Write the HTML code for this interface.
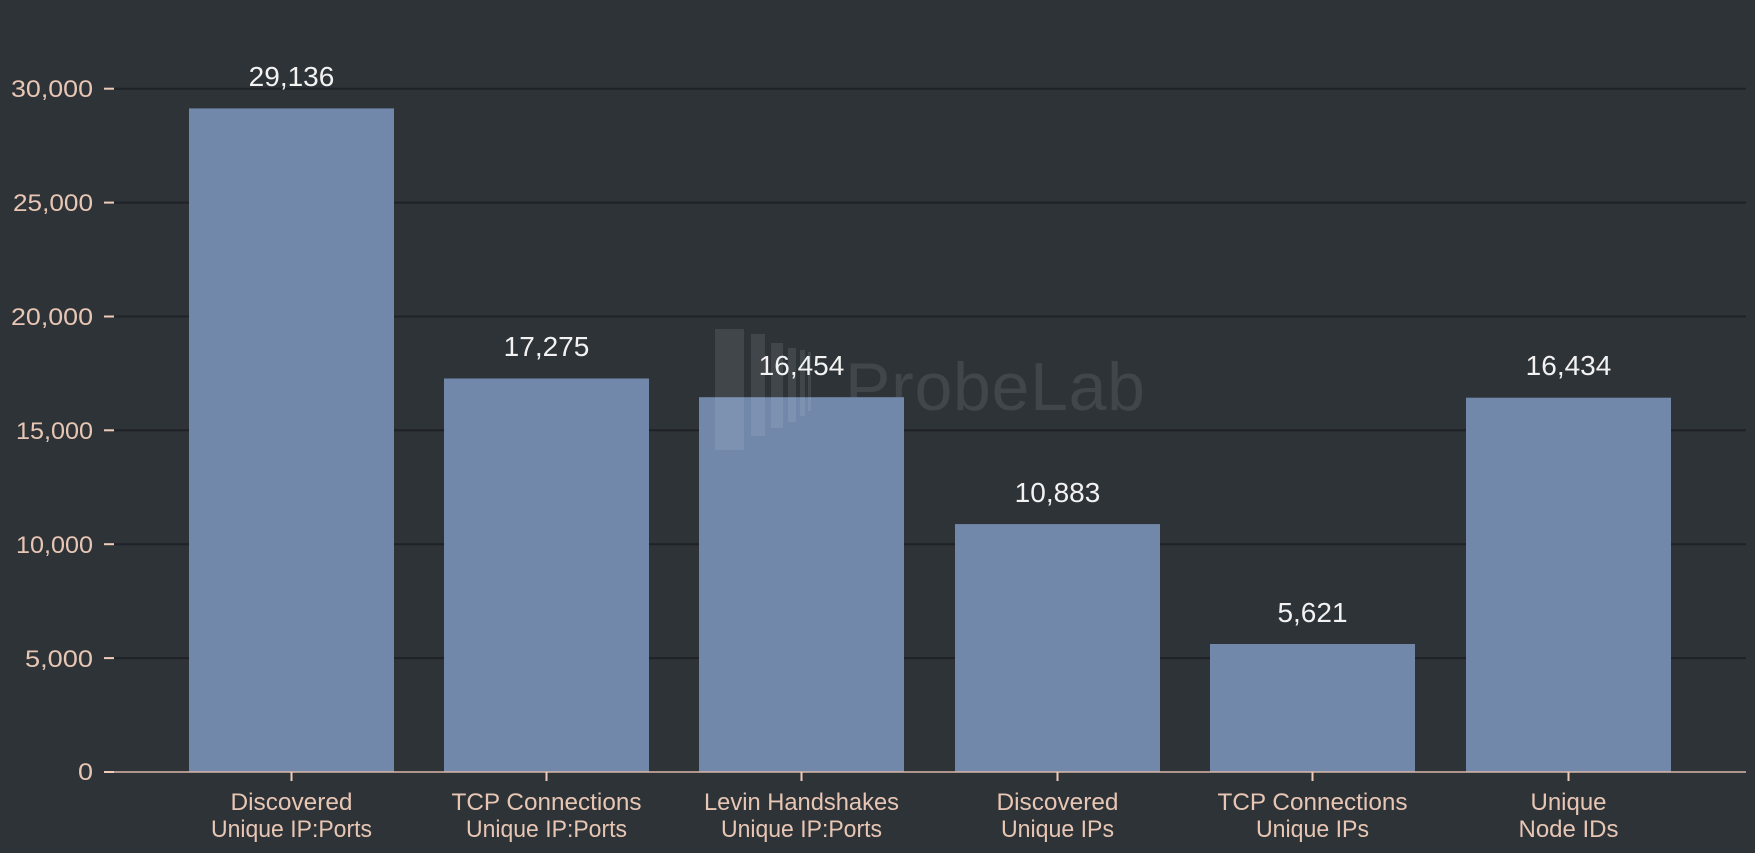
<!DOCTYPE html>
<html><head><meta charset="utf-8"><style>
html,body{margin:0;padding:0;background:#2e3338;}
svg{display:block;}
text{font-family:"Liberation Sans","DejaVu Sans",sans-serif;}
</style></head><body>
<svg width="1755" height="853" viewBox="0 0 1755 853" xmlns="http://www.w3.org/2000/svg">
<rect width="1755" height="853" fill="#2e3338"/>
<g stroke="#1f2327" stroke-width="2">
<line x1="114" x2="1746" y1="88.7" y2="88.7"/>
<line x1="114" x2="1746" y1="202.6" y2="202.6"/>
<line x1="114" x2="1746" y1="316.5" y2="316.5"/>
<line x1="114" x2="1746" y1="430.3" y2="430.3"/>
<line x1="114" x2="1746" y1="544.2" y2="544.2"/>
<line x1="114" x2="1746" y1="658.1" y2="658.1"/>
</g>
<g stroke="#f0cbb8" stroke-width="2">
<line x1="104" x2="114" y1="88.7" y2="88.7"/>
<line x1="104" x2="114" y1="202.6" y2="202.6"/>
<line x1="104" x2="114" y1="316.5" y2="316.5"/>
<line x1="104" x2="114" y1="430.3" y2="430.3"/>
<line x1="104" x2="114" y1="544.2" y2="544.2"/>
<line x1="104" x2="114" y1="658.1" y2="658.1"/>
<line x1="104" x2="114" y1="772" y2="772"/>
</g>
<g fill="#e8c6b4" font-size="24" text-anchor="end" lengthAdjust="spacingAndGlyphs">
<text x="93" y="97" textLength="82" lengthAdjust="spacingAndGlyphs">30,000</text>
<text x="93" y="211" textLength="80" lengthAdjust="spacingAndGlyphs">25,000</text>
<text x="93" y="325" textLength="82" lengthAdjust="spacingAndGlyphs">20,000</text>
<text x="93" y="439" textLength="77" lengthAdjust="spacingAndGlyphs">15,000</text>
<text x="93" y="553" textLength="77" lengthAdjust="spacingAndGlyphs">10,000</text>
<text x="93" y="667" textLength="68" lengthAdjust="spacingAndGlyphs">5,000</text>
<text x="93" y="780" textLength="15" lengthAdjust="spacingAndGlyphs">0</text>
</g>
<!-- watermark -->
<text x="845" y="410" font-size="68" fill="#41464b" textLength="300">ProbeLab</text>
<g fill="#41464b">
<rect x="715" y="329" width="29" height="121"/>
<rect x="751" y="334" width="14" height="102"/>
<rect x="771" y="343" width="12" height="85"/>
<rect x="788" y="348" width="8" height="74"/>
<rect x="800" y="350" width="5" height="66"/>
<rect x="808" y="352" width="3" height="59"/>
</g>
<g fill="#7288aa">
<rect x="189" y="108.4" width="205" height="663.6"/>
<rect x="444" y="378.5" width="205" height="393.5"/>
<rect x="699" y="397.2" width="205" height="374.8"/>
<rect x="955" y="524.1" width="205" height="247.9"/>
<rect x="1210" y="644" width="205" height="128"/>
<rect x="1466" y="397.7" width="205" height="374.3"/>
</g>
<g fill="rgba(255,255,255,0.08)">
<rect x="715" y="397.2" width="29" height="52.8"/>
<rect x="751" y="397.2" width="14" height="38.8"/>
<rect x="771" y="397.2" width="12" height="30.8"/>
<rect x="788" y="397.2" width="8" height="24.8"/>
<rect x="800" y="397.2" width="5" height="18.8"/>
<rect x="808" y="397.2" width="3" height="13.8"/>
</g>
<line x1="114" x2="1746" y1="772" y2="772" stroke="#d9b8a8" stroke-width="1.5"/>
<g stroke="#f0cbb8" stroke-width="2">
<line x1="291.5" x2="291.5" y1="772" y2="781"/>
<line x1="546.5" x2="546.5" y1="772" y2="781"/>
<line x1="801.5" x2="801.5" y1="772" y2="781"/>
<line x1="1057.5" x2="1057.5" y1="772" y2="781"/>
<line x1="1312.5" x2="1312.5" y1="772" y2="781"/>
<line x1="1568.5" x2="1568.5" y1="772" y2="781"/>
</g>
<g fill="#f2f2f2" font-size="28" text-anchor="middle" font-weight="300">
<text x="291.5" y="86">29,136</text>
<text x="546.5" y="356">17,275</text>
<text x="801.5" y="375">16,454</text>
<text x="1057.5" y="502">10,883</text>
<text x="1312.5" y="622">5,621</text>
<text x="1568.5" y="375">16,434</text>
</g>
<g fill="#e8c6b4" font-size="24" text-anchor="middle">
<text x="291.5" y="810" textLength="122" lengthAdjust="spacingAndGlyphs">Discovered</text><text x="291.5" y="837" textLength="161" lengthAdjust="spacingAndGlyphs">Unique IP:Ports</text>
<text x="546.5" y="810" textLength="190" lengthAdjust="spacingAndGlyphs">TCP Connections</text><text x="546.5" y="837" textLength="161" lengthAdjust="spacingAndGlyphs">Unique IP:Ports</text>
<text x="801.5" y="810" textLength="195" lengthAdjust="spacingAndGlyphs">Levin Handshakes</text><text x="801.5" y="837" textLength="161" lengthAdjust="spacingAndGlyphs">Unique IP:Ports</text>
<text x="1057.5" y="810" textLength="122" lengthAdjust="spacingAndGlyphs">Discovered</text><text x="1057.5" y="837" textLength="113" lengthAdjust="spacingAndGlyphs">Unique IPs</text>
<text x="1312.5" y="810" textLength="190" lengthAdjust="spacingAndGlyphs">TCP Connections</text><text x="1312.5" y="837" textLength="113" lengthAdjust="spacingAndGlyphs">Unique IPs</text>
<text x="1568.5" y="810" textLength="76" lengthAdjust="spacingAndGlyphs">Unique</text><text x="1568.5" y="837" textLength="100" lengthAdjust="spacingAndGlyphs">Node IDs</text>
</g>
</svg>
</body></html>
